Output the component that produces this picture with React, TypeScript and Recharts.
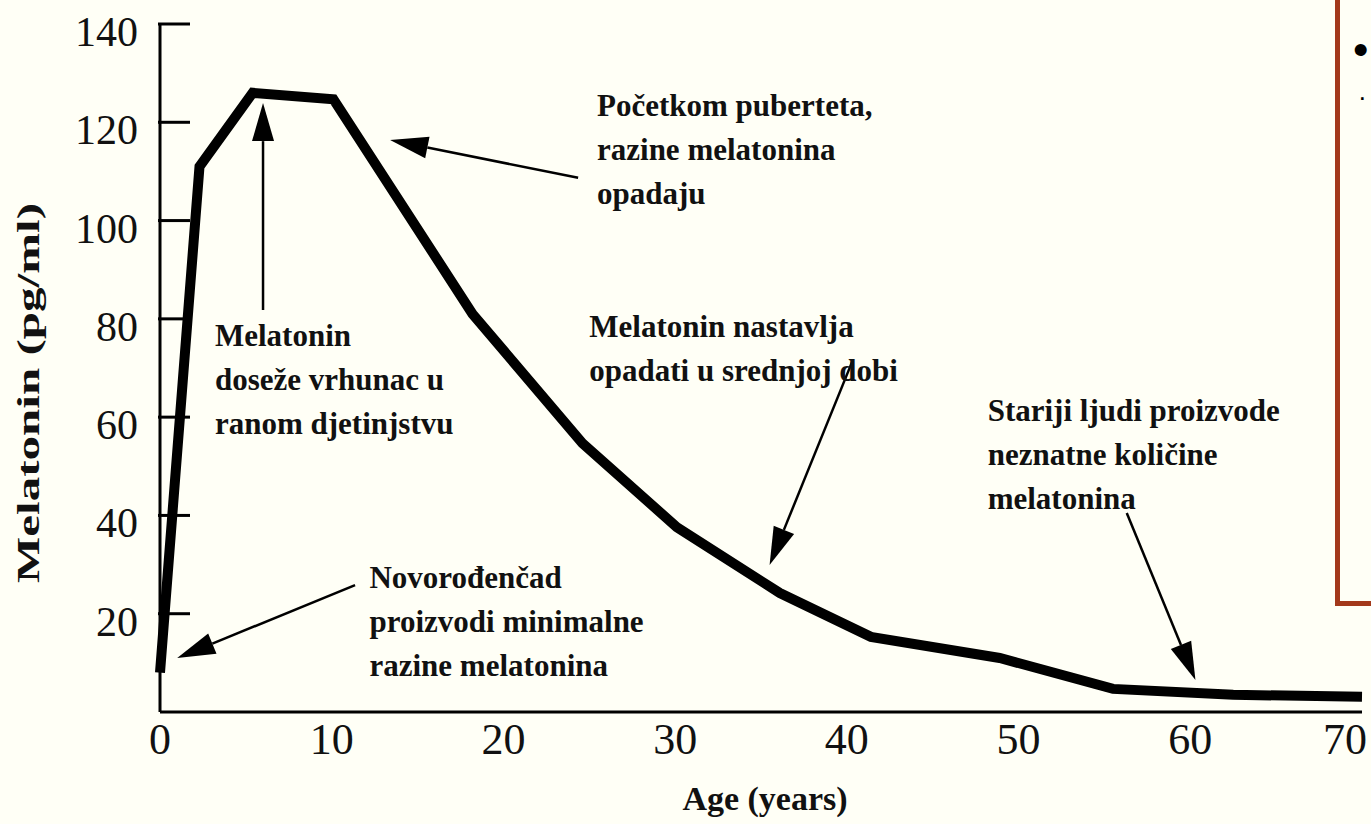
import { LineChart, Line, XAxis, YAxis, ReferenceLine, ReferenceDot, Label } from 'recharts';

const ages = [0, 2.3, 5.4, 10.1, 18.2, 24.6, 30.1, 36.1, 41.4, 48.9, 55.5, 62.5, 70];
const melatonin = [8, 111, 126, 124.7, 81, 54.7, 37.6, 24.2, 15.3, 11, 4.7, 3.5, 3.1];
const xTicks = [0, 10, 20, 30, 40, 50, 60, 70];
const yTicks = [0, 20, 40, 60, 80, 100, 120, 140];

const noteAges = [25.45, 3.2, 25.0, 48.2, 12.2];
const noteValues = [123.5, 76.7, 78.5, 61.3, 27.3];
const noteLines = [
  ['Početkom puberteta,', 'razine melatonina', 'opadaju'],
  ['Melatonin', 'doseže vrhunac u', 'ranom djetinjstvu'],
  ['Melatonin nastavlja', 'opadati u srednjoj dobi'],
  ['Stariji ljudi proizvode', 'neznatne količine', 'melatonina'],
  ['Novorođenčad', 'proizvodi minimalne', 'razine melatonina'],
];

// arrow tail -> tip, in (age, value)
const arrowFrom = [[6.0, 81.8], [24.35, 108.7], [40.3, 71.2], [56.3, 40.5], [11.36, 25.8]];
const arrowTo = [[6.0, 123.9], [13.4, 116.4], [35.5, 29.9], [60.3, 6.5], [1.0, 11.0]];

const data = ages.map((a, i) => ({ age: a, m: melatonin[i] }));
const serif = '"Liberation Serif", "Times New Roman", serif';

function ArrowShape(p: any) {
  const { x1, y1, x2, y2 } = p;
  const dx = x2 - x1;
  const dy = y2 - y1;
  const len = Math.sqrt(dx * dx + dy * dy) || 1;
  const ux = dx / len;
  const uy = dy / len;
  const hl = 38;
  const hw = 11;
  const bx = x2 - ux * hl;
  const by = y2 - uy * hl;
  const pts = `${x2},${y2} ${bx - uy * hw},${by + ux * hw} ${bx + uy * hw},${by - ux * hw}`;
  return (
    <g>
      <line x1={x1} y1={y1} x2={bx} y2={by} stroke="#000" strokeWidth={2.5} />
      <polygon points={pts} fill="#000" />
    </g>
  );
}

function noteShape(lines: string[]) {
  return (p: any) => (
    <text x={p.cx} y={p.cy} fontFamily={serif} fontWeight="bold" fontSize={31} fill="#111">
      {lines.map((t, i) => (
        <tspan key={i} x={p.cx} y={p.cy + i * 44} dominantBaseline="central">
          {t}
        </tspan>
      ))}
    </text>
  );
}

function YTick(p: any) {
  const { x, y, payload } = p;
  if (payload.value === 0) return null;
  return (
    <g>
      <line x1={x - 2} y1={y} x2={x + 30} y2={y} stroke="#000" strokeWidth={3} />
      <text x={x - 22} y={y + 8} textAnchor="end" dominantBaseline="central" fontFamily={serif} fontSize={42} fill="#111">
        {payload.value}
      </text>
    </g>
  );
}

function XTick(p: any) {
  const { x, y, payload } = p;
  const last = payload.value === 70;
  return (
    <text
      x={last ? x + 5 : x}
      y={y + 27}
      textAnchor={last ? 'end' : 'middle'}
      dominantBaseline="central"
      fontFamily={serif}
      fontSize={44}
      fill="#111"
    >
      {payload.value}
    </text>
  );
}

export default function App() {
  return (
    <div style={{ position: 'absolute', left: 0, top: 0, width: 1371, height: 824, background: '#fffff6', overflow: 'hidden' }}>
      <LineChart width={1371} height={824} data={data} margin={{ top: 24, right: 9, left: 0, bottom: 0 }}>
        <XAxis
          dataKey="age"
          type="number"
          domain={[0, 70]}
          ticks={xTicks}
          interval={0}
          tickLine={false}
          tickSize={0}
          tickMargin={0}
          height={112}
          axisLine={{ stroke: '#000', strokeWidth: 3 }}
          tick={XTick}
        >
          <Label
            content={(p: any) => (
              <text
                x={p.viewBox.x + p.viewBox.width / 2 + 4}
                y={p.viewBox.y + 86}
                textAnchor="middle"
                dominantBaseline="central"
                fontFamily={serif}
                fontWeight="bold"
                fontSize={34}
                fill="#111"
              >
                Age (years)
              </text>
            )}
          />
        </XAxis>
        <YAxis
          type="number"
          domain={[0, 140]}
          ticks={yTicks}
          interval={0}
          width={160}
          tickLine={false}
          tickSize={0}
          tickMargin={0}
          axisLine={{ stroke: '#000', strokeWidth: 3 }}
          tick={YTick}
        >
          <Label
            content={(p: any) => {
              const cy = p.viewBox.y + p.viewBox.height / 2 + 25;
              return (
                <text
                  x={28}
                  y={cy}
                  transform={`rotate(-90 28 ${cy})`}
                  textAnchor="middle"
                  dominantBaseline="central"
                  fontFamily={serif}
                  fontWeight="bold"
                  fontSize={31}
                  textLength={380}
                  lengthAdjust="spacingAndGlyphs"
                  fill="#111"
                >
                  Melatonin (pg/ml)
                </text>
              );
            }}
          />
        </YAxis>
        <Line
          type="linear"
          dataKey="m"
          stroke="#000"
          strokeWidth={10}
          strokeLinejoin="miter"
          dot={false}
          activeDot={false}
          isAnimationActive={false}
        />
        {arrowFrom.map((f, i) => (
          <ReferenceLine
            key={'a' + i}
            segment={[
              { x: f[0], y: f[1] },
              { x: arrowTo[i][0], y: arrowTo[i][1] },
            ]}
            shape={ArrowShape}
          />
        ))}
        {noteAges.map((a, i) => (
          <ReferenceDot key={'n' + i} x={a} y={noteValues[i]} r={0} shape={noteShape(noteLines[i])} />
        ))}
      </LineChart>
      <div
        style={{
          position: 'absolute',
          left: 1335,
          top: -10,
          width: 60,
          height: 616,
          border: '5px solid #a3391b',
          boxSizing: 'border-box',
        }}
      />
      <div style={{ position: 'absolute', left: 1353, top: 28, fontFamily: 'Arial, sans-serif', fontSize: 44, lineHeight: '44px', color: '#000' }}>
        •
      </div>
      <div style={{ position: 'absolute', left: 1358, top: 84, fontFamily: 'Arial, sans-serif', fontSize: 26, lineHeight: '26px', color: '#000' }}>
        ·
      </div>
    </div>
  );
}
